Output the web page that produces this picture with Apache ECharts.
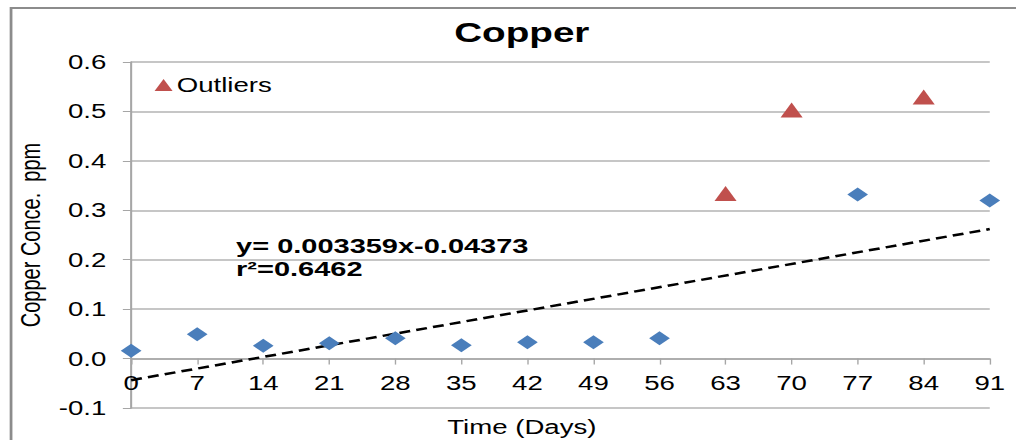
<!DOCTYPE html>
<html>
<head>
<meta charset="utf-8">
<script src="https://cdn.jsdelivr.net/npm/echarts@6/dist/echarts.min.js"></script>
<style>
  body { margin: 0; background: #fff; overflow: hidden; }
  /* the original picture is stretched sideways, so draw narrow and stretch */
  #chart { width: 736px; height: 440px; transform: scaleX(1.3804); transform-origin: 0 0; }
</style>
</head>
<body>
<div id="chart"></div>
<script>
// days on the x axis
var days = [0, 7, 14, 21, 28, 35, 42, 49, 56, 63, 70, 77, 84, 91];
// regular measurements (diamonds)
var copperDays = [0, 7, 14, 21, 28, 35, 42, 49, 56, 77, 91];
var copperValues = [0.016, 0.049, 0.026, 0.031, 0.041, 0.027, 0.033, 0.033, 0.041, 0.332, 0.32];
// outliers (triangles)
var outlierDays = [63, 70, 84];
var outlierValues = [0.334, 0.503, 0.529];
// linear trend end points
var trendDays = [0, 91];
var trendValues = [-0.0437, 0.2620];

var copperData = copperDays.map(function (d, i) { return [d, copperValues[i]]; });
var outlierData = outlierDays.map(function (d, i) { return [d, outlierValues[i]]; });
var trendData = trendDays.map(function (d, i) { return [d, trendValues[i]]; });

var myChart = echarts.init(document.getElementById("chart"), null, { renderer: "svg" });
var font = "Liberation Sans, Arial, sans-serif";

var option = {
  animation: false,
  textStyle: { fontFamily: font },
  title: {
    text: "Copper",
    left: 373,
    textAlign: "center",
    top: 13,
    textStyle: { fontSize: 28, fontWeight: "bold", color: "#000", fontFamily: font },
  },
  legend: {
    data: ["Outliers"],
    left: 107,
    top: 70,
    itemWidth: 13,
    itemHeight: 12,
    itemGap: 4,
    textStyle: { fontSize: 20, color: "#000", fontFamily: font, padding: [0, 0, 0, -2] },
  },
  graphic: [
    {
      type: "polyline",
      shape: { points: [[8, 440], [8, 8], [736, 8]] },
      style: { stroke: "#8c8c8c", lineWidth: 2, fill: null },
    },
    {
      type: "text",
      left: 171,
      top: 234,
      style: {
        text: "y= 0.003359x-0.04373\nr²=0.6462",
        font: "bold 21px " + font,
        fill: "#000",
        lineHeight: 23,
      },
    },
    {
      type: "text",
      left: 324,
      top: 417,
      style: {
        text: "Time (Days)",
        font: "20px " + font,
        fill: "#000",
      },
    },
  ],
  grid: { left: 95, right: 19, top: 62, bottom: 32, outerBoundsMode: "none" },
  xAxis: {
    type: "value",
    min: 0,
    max: 91,
    interval: 7,
    axisLine: { onZero: true, lineStyle: { color: "#a6a6a6", width: 1.5 } },
    axisTick: { show: true, length: 6, lineStyle: { color: "#a6a6a6", width: 1 } },
    axisLabel: { fontSize: 20, color: "#000", margin: -35, fontFamily: font },
    splitLine: { show: false },
  },
  yAxis: {
    type: "value",
    min: -0.1,
    max: 0.6,
    interval: 0.1,
    name: "Copper Conce.  ppm",
    nameLocation: "middle",
    nameGap: 56,
    nameTextStyle: { fontSize: 20, color: "#000", fontFamily: font },
    axisLine: { show: true, lineStyle: { color: "#a6a6a6", width: 1.5 } },
    axisTick: { show: true, length: 6, lineStyle: { color: "#a6a6a6" } },
    axisLabel: {
      fontSize: 20,
      color: "#000",
      margin: 18,
      fontFamily: font,
      formatter: function (v) { return v.toFixed(1); },
    },
    splitLine: { show: true, lineStyle: { color: "#b3b3b3", width: 1.5 } },
  },
  series: [
    {
      name: "Trend",
      type: "line",
      data: trendData,
      symbol: "none",
      lineStyle: { color: "#000", width: 2.5, type: [8, 4.5] },
      z: 3,
    },
    {
      name: "Copper",
      type: "scatter",
      data: copperData,
      symbol: "diamond",
      symbolSize: [15, 14],
      itemStyle: { color: "#4a7ebb", opacity: 1 },
      z: 4,
    },
    {
      name: "Outliers",
      type: "scatter",
      data: outlierData,
      symbol: "triangle",
      symbolSize: [16, 15],
      itemStyle: { color: "#c0504d", opacity: 1 },
      z: 4,
    },
  ],
};

myChart.setOption(option);
window.addEventListener("resize", function () {
  myChart.resize();
});
</script>
</body>
</html>
